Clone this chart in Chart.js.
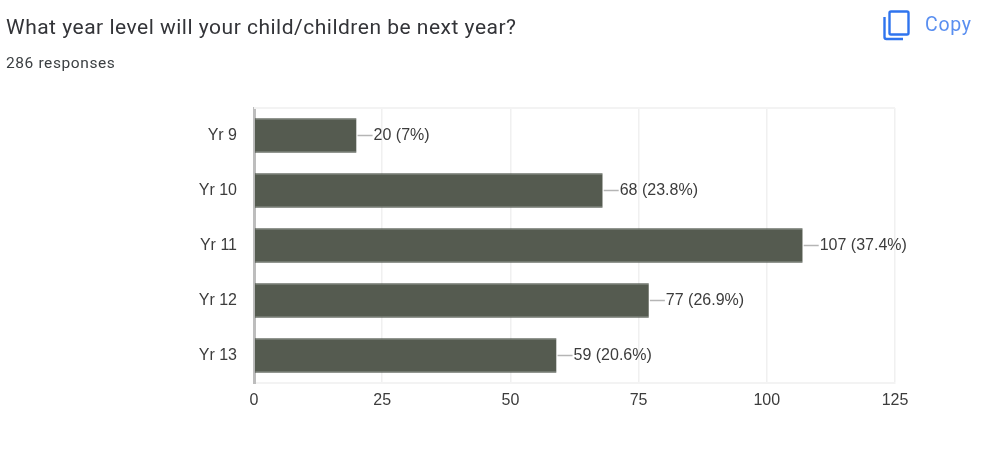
<!DOCTYPE html>
<html>
<head>
<meta charset="utf-8">
<style>
	body { margin: 0; background: #fff; }
	.wrap { position: relative; width: 1000px; height: 457px; overflow: hidden; font-family: Roboto, sans-serif; filter: blur(0.45px); }
	.title { position: absolute; left: 6px; top: 15px; font-size: 21px; line-height: 24px; letter-spacing: 0.5px; color: #333438; white-space: nowrap; }
	.responses { position: absolute; left: 6px; top: 54px; font-size: 15.5px; line-height: 18px; letter-spacing: 0.6px; color: #3c4043; white-space: nowrap; }
	.copy-icon { position: absolute; left: 883px; top: 10px; }
	.copy { position: absolute; left: 925px; top: 14px; font-size: 19.5px; line-height: 22px; letter-spacing: 0.7px; color: #5a8ff0; }
	canvas { position: absolute; left: 0; top: 0; }
</style>
</head>
<body>
<div class="wrap">
	<canvas class="bar-chart" width="1000" height="457"></canvas>
	<div class="title">What year level will your child/children be next year?</div>
	<div class="responses">286 responses</div>
	<svg class="copy-icon" width="28" height="32" viewBox="0 0 28 32" fill="none">
		<rect x="6.5" y="1.5" width="19" height="23" rx="1.5" stroke="#2f74ee" stroke-width="2.4"/>
		<path d="M1.5 7 V27 Q1.5 29 3.5 29 H20" stroke="#2f74ee" stroke-width="2.4"/>
	</svg>
	<div class="copy">Copy</div>
</div>
<script src="https://cdn.jsdelivr.net/npm/chart.js@4"></script>
<script>
const categories = ['Yr 9', 'Yr 10', 'Yr 11', 'Yr 12', 'Yr 13']
const counts = [20, 68, 107, 77, 59]
const percents = ['7%', '23.8%', '37.4%', '26.9%', '20.6%']
const xTicks = [0, 25, 50, 75, 100, 125]

const labelFont = '"Liberation Sans", Arial, sans-serif'

// faint top edge, then leader line and "count (percent)" text next to each bar
const barLabels = {
	id: 'barLabels',
	beforeDatasetsDraw(chart) {
		const ctx = chart.ctx
		const area = chart.chartArea
		ctx.save()
		ctx.strokeStyle = '#f3f3f3'
		ctx.lineWidth = 2
		ctx.beginPath()
		ctx.moveTo(area.left, area.top)
		ctx.lineTo(area.right, area.top)
		ctx.stroke()
		ctx.restore()
	},
	afterDatasetsDraw(chart) {
		const ctx = chart.ctx
		const bars = chart.getDatasetMeta(0).data
		ctx.save()
		ctx.font = '16px ' + labelFont
		ctx.textBaseline = 'middle'
		bars.forEach((bar, i) => {
			ctx.strokeStyle = '#b5b5b5'
			ctx.lineWidth = 1.5
			ctx.beginPath()
			ctx.moveTo(bar.x + 1, bar.y)
			ctx.lineTo(bar.x + 16, bar.y)
			ctx.stroke()
			ctx.fillStyle = '#3c3c3c'
			ctx.fillText(counts[i] + ' (' + percents[i] + ')', bar.x + 17, bar.y + 0.5)
		})
		ctx.restore()
	},
}

new Chart(document.querySelector('.bar-chart'), {
	type: 'bar',
	data: {
		labels: categories,
		datasets: [
			{
				data: counts,
				backgroundColor: '#555b50',
				borderColor: '#3f453c',
				borderWidth: { top: 1, bottom: 1 },
				borderSkipped: false,
				barPercentage: 0.63,
				categoryPercentage: 1,
			},
		],
	},
	options: {
		indexAxis: 'y',
		responsive: false,
		animation: false,
		layout: { padding: { top: 108, right: 105, bottom: 0, left: 0 } },
		plugins: { legend: { display: false }, tooltip: { enabled: false } },
		scales: {
			x: {
				min: 0,
				max: 125,
				afterBuildTicks(axis) {
					axis.ticks = xTicks.map(v => ({ value: v }))
				},
				afterFit(axis) {
					axis.height = 74
				},
				grid: { color: '#f0f0f0', lineWidth: 1.5, drawTicks: false },
				border: { color: '#f3f3f3', width: 2 },
				ticks: { padding: 8, maxRotation: 0, color: '#3c3c3c', font: { family: labelFont, size: 16 } },
			},
			y: {
				afterFit(axis) {
					axis.width = 254
				},
				grid: { display: false, drawTicks: false },
				border: { color: '#bdbdbd', width: 3 },
				ticks: { padding: 17, color: '#3c3c3c', font: { family: labelFont, size: 16 } },
			},
		},
	},
	plugins: [barLabels],
})
</script>
</body>
</html>
